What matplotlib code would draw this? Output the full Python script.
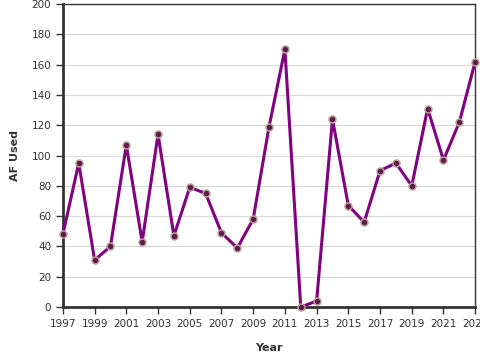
import matplotlib
matplotlib.use('Agg')
import matplotlib.pyplot as plt

years = list(range(1997, 2024))
af_used = [48, 95, 31, 40, 107, 43, 114, 47, 79, 75, 49, 39, 58, 119, 170,
           0, 4, 124, 67, 56, 90, 95, 80, 131, 97, 122, 162]
xticks = list(range(1997, 2024, 2))
yticks = list(range(0, 201, 20))

fig = plt.figure(figsize=(4.8, 3.6), dpi=100)
ax = fig.add_axes([0.131, 0.147, 0.859, 0.842])

ax.plot(years, af_used, color='#800080', lw=2.2, zorder=3,
        marker='o', markersize=5, markerfacecolor='#5e1a50',
        markeredgecolor='#b8a090', markeredgewidth=1.1, clip_on=False)

ax.set_xlim(1997, 2023)
ax.set_ylim(0, 200)
ax.set_xticks(xticks)
ax.set_yticks(yticks)
ax.yaxis.grid(True, color='#d9d9d9', lw=0.8)
ax.set_axisbelow(True)

for s in ['left', 'bottom']:
    ax.spines[s].set_linewidth(2)
    ax.spines[s].set_color('#333333')
for s in ['top', 'right']:
    ax.spines[s].set_linewidth(1)
    ax.spines[s].set_color('#333333')

ax.tick_params(labelsize=7.5, colors='#333333', length=5, width=1)
ax.set_xlabel('Year', fontsize=8, fontweight='bold', color='#333333', labelpad=10)
ax.set_ylabel('AF Used', fontsize=8, fontweight='bold', color='#333333', labelpad=8)

fig.savefig('out.png', dpi=100)
